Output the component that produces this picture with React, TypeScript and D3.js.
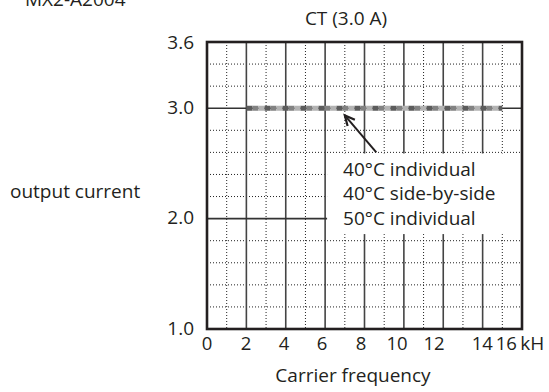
import React from 'react';
import * as d3 from 'd3';

const chartTitle = 'CT (3.0 A)';
const modelLabel = 'MX2-A2004';
const yAxisTitle = 'output current';
const xAxisTitle = 'Carrier frequency';
const xUnit = 'kH';

const xTickLabels = ['0', '2', '4', '6', '8', '10', '12', '14', '16'];
// where each x tick label sits (kHz)
const xTickLabelAt = [0, 1.98, 3.91, 5.84, 7.82, 9.65, 11.53, 13.98, 15.2];
const yTicks = [1.0, 2.0, 3.0, 3.6];
const yTickLabels = ['1.0', '2.0', '3.0', '3.6'];
const yMinorGrid = [1.2, 1.4, 1.6, 1.8, 2.2, 2.4, 2.6, 2.8, 3.2, 3.4];
const yMajorGrid = [2.0, 3.0];
const xMinorGrid = [1, 3, 5, 7, 9, 11, 13, 15];
const xMajorGrid = [2, 4, 6, 8, 10, 12, 14];

const seriesNames = ['40°C individual', '40°C side-by-side', '50°C individual'];
const seriesFreq = [2, 15];
const series40Individual = [3.0, 3.0];
const series40SideBySide = [3.0, 3.0];
const series50Individual = [3.0, 3.0];
const seriesColors = ['#5c5c5c', '#828282', '#b3b3b3'];

// annotation anchors in data units
const legendBoxX = [6.1, 16];
const legendBoxY = [2.59, 1.86];
const arrowFrom = [8.6, 2.6];
const arrowTo = [7.0, 2.935];

const W = 549;
const H = 392;
const FONT = "'Open Sans', 'Noto Sans', sans-serif";
const INK = '#231f20';

export default function App() {
  const x = d3.scaleLinear().domain([0, 16]).range([207, 522]);
  const y = d3.scaleLinear().domain([1.0, 3.6]).range([329, 42]);
  const [x0, x1] = x.range();
  const [yb, yt] = y.range();

  const line = d3
    .line<number>()
    .x((_, i) => x(seriesFreq[i]))
    .y((d) => y(d));
  const allSeries = [series40Individual, series40SideBySide, series50Individual];

  const bx0 = x(legendBoxX[0]);
  const bx1 = x(legendBoxX[1]);
  const by0 = y(legendBoxY[0]);
  const by1 = y(legendBoxY[1]);

  const ax1 = x(arrowFrom[0]);
  const ay1 = y(arrowFrom[1]);
  const ax2 = x(arrowTo[0]);
  const ay2 = y(arrowTo[1]);
  const ang = Math.atan2(ay2 - ay1, ax2 - ax1);
  const headLen = 11;
  const headSpread = 0.45;
  const h1 = [ax2 - headLen * Math.cos(ang - headSpread), ay2 - headLen * Math.sin(ang - headSpread)];
  const h2 = [ax2 - headLen * Math.cos(ang + headSpread), ay2 - headLen * Math.sin(ang + headSpread)];

  return (
    <svg
      width={W}
      height={H}
      style={{ position: 'absolute', left: 0, top: 0, background: '#fff' }}
      fontFamily={FONT}
      fill={INK}
    >
      <rect x={0} y={0} width={W} height={H} fill="#fff" />
      {/* minor grid */}
      {xMinorGrid.map((v) => (
        <line key={'xm' + v} x1={x(v)} x2={x(v)} y1={yt} y2={yb} stroke="#222" strokeWidth={1} strokeDasharray="1 2" />
      ))}
      {yMinorGrid.map((v) => (
        <line key={'ym' + v} x1={x0} x2={x1} y1={y(v)} y2={y(v)} stroke="#222" strokeWidth={1} strokeDasharray="1 2" />
      ))}
      {/* major grid */}
      {xMajorGrid.map((v) => (
        <line key={'xM' + v} x1={x(v)} x2={x(v)} y1={yt} y2={yb} stroke="#444" strokeWidth={1.6} />
      ))}
      {yMajorGrid.map((v) => (
        <line key={'yM' + v} x1={x0} x2={x1} y1={y(v)} y2={y(v)} stroke="#333" strokeWidth={1.6} />
      ))}
      {/* legend box */}
      <rect x={bx0} y={by0} width={bx1 - bx0} height={by1 - by0} fill="#fff" />
      {/* series */}
      {allSeries.map((s, i) => (
        <path
          key={'s' + i}
          d={line(s) || ''}
          fill="none"
          stroke={seriesColors[i]}
          strokeWidth={5}
          strokeDasharray="6 12"
          strokeDashoffset={-6 * i}
        />
      ))}
      {/* border */}
      <rect x={x0} y={yt} width={x1 - x0} height={yb - yt} fill="none" stroke={INK} strokeWidth={2.6} />
      {/* arrow */}
      <line x1={ax1} y1={ay1} x2={ax2} y2={ay2} stroke={INK} strokeWidth={2} />
      <polyline points={`${h1[0]},${h1[1]} ${ax2},${ay2} ${h2[0]},${h2[1]}`} fill="none" stroke={INK} strokeWidth={2.2} />
      {/* legend text */}
      {seriesNames.map((n, i) => (
        <text key={'l' + i} x={bx0 + 16} y={by0 + 22.5 + i * 24.5} fontSize={19}>
          {n}
        </text>
      ))}
      {/* y tick labels */}
      {yTicks.map((v, i) => (
        <text key={'yt' + v} x={x0 - 13} y={y(v) + (i === yTicks.length - 1 ? 7 : 5.5)} fontSize={19} textAnchor="end">
          {yTickLabels[i]}
        </text>
      ))}
      {/* x tick labels */}
      {xTickLabels.map((t, i) => (
        <text key={'xt' + i} x={x(xTickLabelAt[i])} y={yb + 21} fontSize={18.5} textAnchor="middle">
          {t}
        </text>
      ))}
      <text x={x(xTickLabelAt[xTickLabelAt.length - 1]) + 14} y={yb + 21} fontSize={19}>
        {xUnit}
      </text>
      {/* titles */}
      <text x={346} y={25} fontSize={19} textAnchor="middle">
        {chartTitle}
      </text>
      <text x={25} y={6} fontSize={19}>
        {modelLabel}
      </text>
      <text x={10} y={198} fontSize={19}>
        {yAxisTitle}
      </text>
      <text x={353} y={382} fontSize={19} textAnchor="middle">
        {xAxisTitle}
      </text>
    </svg>
  );
}
